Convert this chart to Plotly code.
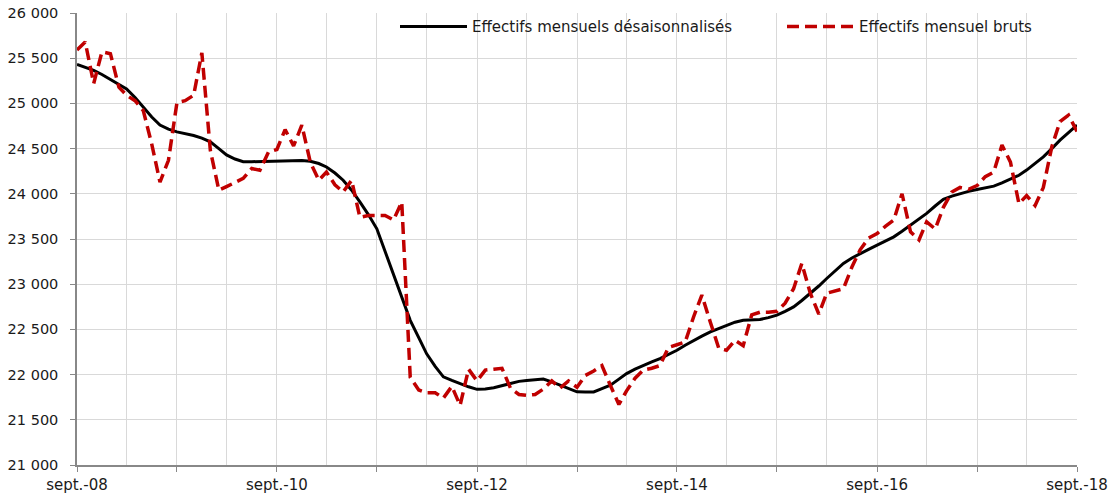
import plotly.graph_objects as go
import pandas as pd

# Monthly dates, sept. 2008 -> sept. 2018
months = pd.date_range("2008-09-01", "2018-09-01", freq="MS").strftime("%Y-%m-%d").tolist()

desaison = [
    25430, 25400, 25365, 25320, 25265, 25215, 25160, 25065, 24960, 24850,
    24760, 24715, 24685, 24665, 24645, 24615, 24575, 24500, 24430, 24385,
    24355, 24355, 24358, 24360, 24360, 24365, 24370, 24367, 24360, 24335,
    24297, 24230, 24150, 24040, 23910, 23770, 23613, 23360, 23100, 22840,
    22600, 22410, 22230, 22090, 21975, 21935, 21900, 21865, 21837, 21840,
    21855, 21880, 21905, 21925, 21936, 21945, 21950, 21920, 21882, 21845,
    21810, 21808, 21808, 21845, 21882, 21950, 22011, 22060, 22103, 22140,
    22177, 22225, 22269, 22325, 22380, 22425, 22472, 22510, 22546, 22580,
    22601, 22605, 22609, 22630, 22657, 22700, 22749, 22820, 22897, 22980,
    23063, 23150, 23229, 23290, 23340, 23385, 23432, 23478, 23524, 23585,
    23654, 23720, 23783, 23865, 23938, 23975, 24004, 24027, 24048, 24066,
    24085, 24120, 24159, 24205, 24262, 24335, 24409, 24500, 24594, 24677,
    24760,
]

bruts = [
    25590, 25680, 25220, 25570, 25550, 25180, 25090, 25030, 24920, 24550,
    24130, 24370, 25010, 25030, 25090, 25560, 24480, 24040, 24080, 24130,
    24170, 24280, 24260, 24460, 24490, 24710, 24530, 24760, 24350, 24150,
    24240, 24100, 24020, 24150, 23740, 23760, 23760, 23760, 23710, 23910,
    21970, 21830, 21800, 21800, 21740, 21870, 21660, 22060, 21930, 22050,
    22060, 22070, 21850, 21780, 21770, 21780, 21840, 21930, 21850, 21930,
    21860, 21990, 22040, 22100, 21880, 21670, 21820, 21960, 22050, 22070,
    22100, 22300, 22330, 22360, 22640, 22880, 22580, 22290, 22270, 22380,
    22320, 22660, 22690, 22690, 22700, 22790, 22950, 23230, 22900, 22670,
    22900, 22930, 22950, 23190, 23380, 23510, 23560, 23640, 23710, 24000,
    23580, 23490, 23690, 23610, 23850, 24020, 24070, 24050, 24090, 24190,
    24240, 24540, 24350, 23890, 23980, 23870, 24070, 24520, 24800, 24870,
    24690,
]

x_tick_vals = ["2008-09-01", "2009-09-01", "2010-09-01", "2011-09-01", "2012-09-01", "2013-09-01",
               "2014-09-01", "2015-09-01", "2016-09-01", "2017-09-01", "2018-09-01"]
x_tick_text = ["sept.-08", "", "sept.-10", "", "sept.-12", "", "sept.-14", "", "sept.-16", "", "sept.-18"]

y_tick_vals = [21000, 21500, 22000, 22500, 23000, 23500, 24000, 24500, 25000, 25500, 26000]
y_tick_text = ["21 000", "21 500", "22 000", "22 500", "23 000", "23 500",
               "24 000", "24 500", "25 000", "25 500", "26 000"]

FONT = "DejaVu Sans"

fig = go.Figure()
fig.add_trace(go.Scatter(
    x=months, y=desaison, mode="lines",
    name="Effectifs mensuels désaisonnalisés",
    line=dict(color="#000000", width=3),
))
fig.add_trace(go.Scatter(
    x=months, y=bruts, mode="lines",
    name="Effectifs mensuel bruts",
    line=dict(color="#C00000", width=3.5, dash="12px,6px"),
))

fig.update_layout(
    width=1112, height=498,
    margin=dict(l=77, r=35, t=13, b=33, autoexpand=False),
    paper_bgcolor="white", plot_bgcolor="white",
    font=dict(family=FONT, size=14, color="#1a1a1a"),
    showlegend=True,
    legend=dict(
        orientation="h", x=0.318, xanchor="left", y=1.006, yanchor="top",
        bgcolor="rgba(0,0,0,0)", font=dict(family=FONT, size=15, color="#1a1a1a"),
        itemwidth=67, traceorder="normal",
        entrywidth=305, entrywidthmode="pixels",
    ),
)

fig.update_xaxes(
    type="date",
    range=["2008-09-01", "2018-09-01"],
    tickmode="array", tickvals=x_tick_vals, ticktext=x_tick_text,
    ticks="outside", ticklen=5, tickcolor="#888888",
    showgrid=True, gridcolor="#d9d9d9", gridwidth=1,
    minor=dict(dtick="M6", tick0="2008-09-01", showgrid=True, gridcolor="#d9d9d9", gridwidth=1, ticks=""),
    showline=True, linecolor="#888888", linewidth=1.5,
    tickfont=dict(family=FONT, size=15, color="#1a1a1a"),
    zeroline=False, automargin=False,
)
fig.update_yaxes(
    range=[21000, 26000],
    tickmode="array", tickvals=y_tick_vals, ticktext=y_tick_text,
    ticks="outside", ticklen=5, tickcolor="#888888",
    showgrid=True, gridcolor="#d9d9d9", gridwidth=1,
    showline=True, linecolor="#888888", linewidth=1.5,
    tickfont=dict(family=FONT, size=14.5, color="#1a1a1a"),
    ticklabelstandoff=9,
    zeroline=False, automargin=False,
)

fig.write_html(
    "out.html",
    config={"displayModeBar": False},
    post_script="document.body.style.margin='0';document.body.style.overflow='hidden';",
)
